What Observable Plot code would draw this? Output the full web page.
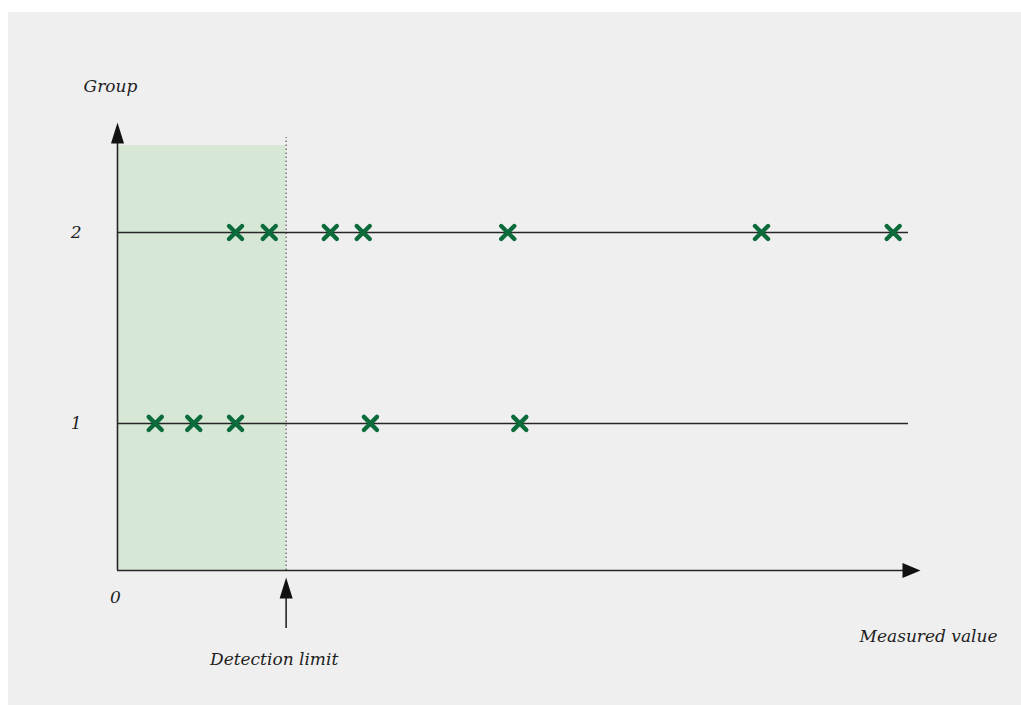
<!DOCTYPE html>
<html><head><meta charset="utf-8">
<script src="https://cdn.jsdelivr.net/npm/d3@7"></script>
<script src="https://cdn.jsdelivr.net/npm/@observablehq/plot@0.6"></script>
<style>
body{margin:0;background:#fff;}
#wrap{position:absolute;left:8px;top:12px;width:1013px;height:693px;background:#efefef;}
</style></head><body><div id="wrap"></div>
<script>
// ---- data ----
const groups = [1, 2];
const group1Values = [4.7, 9.5, 14.7, 31.5, 50.1];
const group2Values = [14.7, 18.9, 26.5, 30.6, 48.6, 80.2, 96.6];
const detectionLimit = 21.0;
const groupLineEnd = 98.5;
const xAxisEnd = 100;
const yAxisBottom = 0.23;
const yAxisTop = 2.576;
const shadeTop = 2.455;
const limitLineTop = 2.497;
const originLabel = "0";
const yTitle = "Group";
const xTitle = "Measured value";
const limitLabel = "Detection limit";

const points = [
  ...group1Values.map(v => ({group: 1, value: v})),
  ...group2Values.map(v => ({group: 2, value: v}))
];

// custom filled arrowheads (tip at the anchor)
const arrowUp = {draw(ctx) { ctx.moveTo(0, 0); ctx.lineTo(6.5, 21); ctx.lineTo(-6.5, 21); ctx.closePath(); }};
const arrowRight = {draw(ctx) { ctx.moveTo(0, 0); ctx.lineTo(-18, 7.5); ctx.lineTo(-18, -7.5); ctx.closePath(); }};

const green = "#0c6b3b";
const ink = "#262626";
const textOpts = {fill: "#1e1e1e", fontSize: 17, fontStyle: "italic", fontFamily: "DejaVu Serif"};

const plot = Plot.plot({
  width: 1013,
  height: 693,
  marginLeft: 109,
  marginRight: 101,
  marginTop: 110,
  marginBottom: 135,
  style: "font-family:'DejaVu Serif';font-style:italic;font-size:17px;background:transparent;overflow:visible;color:#1e1e1e",
  x: {domain: [0, xAxisEnd], axis: null},
  y: {domain: [yAxisBottom, yAxisTop]},
  marks: [
    Plot.rect([detectionLimit], {x1: 0, x2: d => d, y1: yAxisBottom, y2: shadeTop, fill: "#d6e7d6"}),
    Plot.ruleX([detectionLimit], {y1: yAxisBottom, y2: limitLineTop, stroke: "#555", strokeWidth: 1.2, strokeDasharray: "1.5,2.5"}),
    Plot.ruleY(groups, {y: d => d, x1: 0, x2: groupLineEnd, stroke: ink, strokeWidth: 1.6}),
    Plot.ruleX([0], {y1: yAxisTop, y2: yAxisBottom, stroke: ink, strokeWidth: 1.6, insetTop: 10}),
    Plot.ruleY([yAxisBottom], {x1: 0, x2: xAxisEnd, stroke: ink, strokeWidth: 1.6, insetRight: 8}),
    Plot.dot([0], {x: 0, y: yAxisTop, symbol: arrowUp, r: 8, fill: "#111", stroke: "none"}),
    Plot.dot([0], {x: xAxisEnd, y: yAxisBottom, symbol: arrowRight, r: 8, fill: "#111", stroke: "none"}),
    // detection limit pointer
    Plot.ruleX([detectionLimit], {y1: yAxisBottom, y2: yAxisBottom, insetTop: 24, insetBottom: -58, stroke: ink, strokeWidth: 1.6}),
    Plot.dot([detectionLimit], {x: d => d, y: yAxisBottom, dy: 7, symbol: arrowUp, r: 8, fill: "#111", stroke: "none"}),
    Plot.axisY({ticks: groups, tickSize: 0, tickPadding: 36, label: null, tickFormat: d => String(d), ...textOpts}),
    Plot.dot(points, {x: "value", y: "group", symbol: "times", r: 6, stroke: green, strokeWidth: 4.4, strokeLinecap: "round"}),
    Plot.text([originLabel], {x: 0, y: yAxisBottom, dy: 27, dx: -2, text: d => d, ...textOpts}),
    Plot.text([yTitle], {x: 0, y: yAxisTop, dy: -36, dx: -7, text: d => d, ...textOpts}),
    Plot.text([xTitle], {x: xAxisEnd, y: yAxisBottom, dy: 66, dx: 77, textAnchor: "end", text: d => d, ...textOpts}),
    Plot.text([limitLabel], {x: detectionLimit, y: yAxisBottom, dy: 89, dx: -12, text: d => d, ...textOpts})
  ]
});
document.getElementById("wrap").appendChild(plot);
</script></body></html>
